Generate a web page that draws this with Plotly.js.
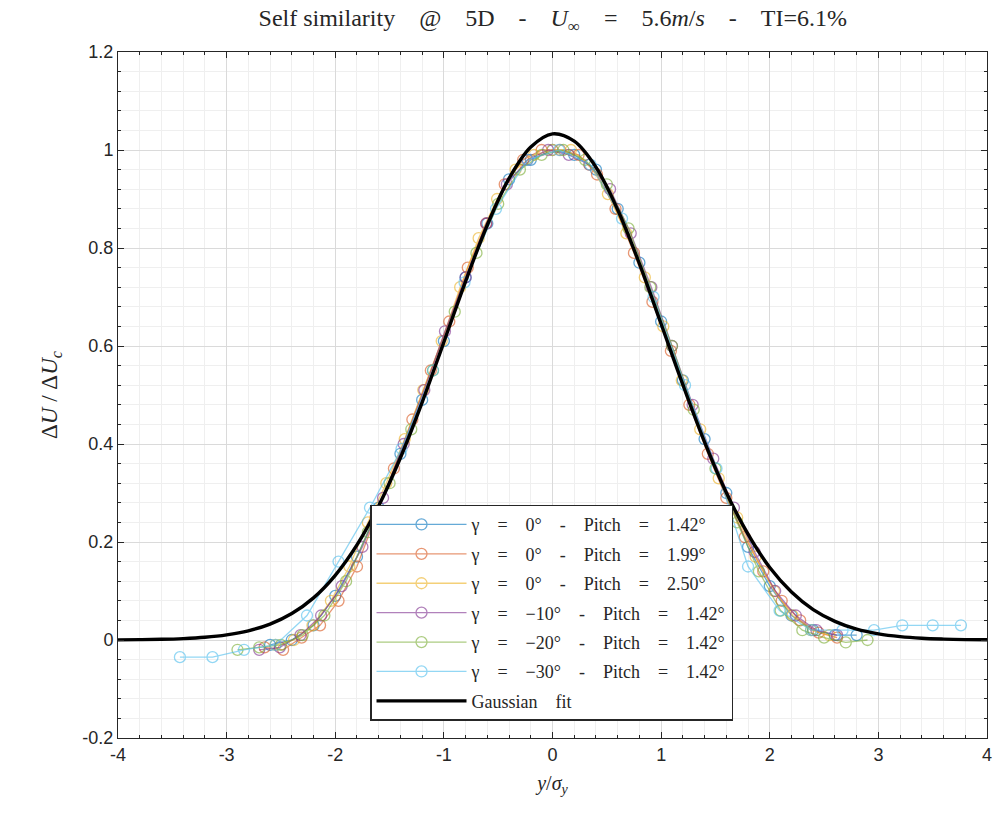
<!DOCTYPE html>
<html>
<head>
<meta charset="utf-8">
<script src="https://cdn.plot.ly/plotly-3.0.1.min.js"></script>
<style>html,body{margin:0;padding:0;background:#fff;}#chart{width:996px;height:822px;}</style>
</head>
<body>
<div id="chart"></div>
<script>
// ---- Data ----
const S = "&nbsp;&nbsp;&nbsp;&nbsp;";
const seriesNames = [
  "γ" + S + "=" + S + "0°" + S + "-" + S + "Pitch" + S + "=" + S + "1.42°",
  "γ" + S + "=" + S + "0°" + S + "-" + S + "Pitch" + S + "=" + S + "1.99°",
  "γ" + S + "=" + S + "0°" + S + "-" + S + "Pitch" + S + "=" + S + "2.50°",
  "γ" + S + "=" + S + "−10°" + S + "-" + S + "Pitch" + S + "=" + S + "1.42°",
  "γ" + S + "=" + S + "−20°" + S + "-" + S + "Pitch" + S + "=" + S + "1.42°",
  "γ" + S + "=" + S + "−30°" + S + "-" + S + "Pitch" + S + "=" + S + "1.42°"
];
const fitName = "Gaussian" + S + "fit";
const seriesColors = ["#0072BD", "#D95319", "#EDB120", "#7E2F8E", "#77AC30", "#4DBEEE"];

const x1 = [-2.6,-2.4,-2.2,-2.0,-1.8,-1.6,-1.4,-1.2,-1.0,-0.8,-0.6,-0.4,-0.2,0,0.2,0.4,0.6,0.8,1.0,1.2,1.4,1.6,1.8,2.0,2.2,2.4,2.6,2.8];
const y1 = [-0.01,0.0,0.03,0.09,0.17,0.27,0.38,0.49,0.61,0.74,0.85,0.94,0.98,1.0,0.99,0.96,0.88,0.77,0.65,0.53,0.41,0.30,0.19,0.11,0.05,0.02,0.01,0.01];

const x2 = [-2.65,-2.48,-2.31,-2.14,-1.97,-1.80,-1.63,-1.46,-1.29,-1.12,-0.95,-0.78,-0.61,-0.44,-0.27,-0.10,0.07,0.24,0.41,0.58,0.75,0.92,1.09,1.26,1.43,1.60,1.77,1.94,2.11,2.28,2.45,2.62];
const y2 = [-0.015,-0.02,0.005,0.03,0.08,0.15,0.25,0.35,0.45,0.55,0.65,0.76,0.85,0.93,0.98,1.0,1.0,0.99,0.95,0.88,0.79,0.69,0.59,0.48,0.38,0.29,0.21,0.14,0.08,0.04,0.015,0.005];

const x3 = [-2.55,-2.38,-2.21,-2.04,-1.87,-1.70,-1.53,-1.36,-1.19,-1.02,-0.85,-0.68,-0.51,-0.34,-0.17,0,0.17,0.34,0.51,0.68,0.85,1.02,1.19,1.36,1.53,1.70,1.87,2.04,2.21,2.38,2.55];
const y3 = [-0.01,0.0,0.03,0.08,0.15,0.24,0.32,0.41,0.51,0.61,0.72,0.82,0.90,0.96,0.99,1.0,1.0,0.97,0.91,0.83,0.74,0.64,0.53,0.43,0.33,0.25,0.17,0.10,0.05,0.02,0.01];

const x4 = [-2.70,-2.51,-2.32,-2.13,-1.94,-1.75,-1.56,-1.37,-1.18,-0.99,-0.80,-0.61,-0.42,-0.23,-0.04,0.15,0.34,0.53,0.72,0.91,1.10,1.29,1.48,1.67,1.86,2.05,2.24,2.43,2.62];
const y4 = [-0.02,-0.015,0.01,0.05,0.11,0.19,0.29,0.40,0.51,0.63,0.74,0.85,0.93,0.98,1.0,0.99,0.97,0.92,0.83,0.72,0.60,0.48,0.37,0.27,0.18,0.10,0.05,0.02,0.01];

const x5 = [-2.9,-2.7,-2.5,-2.3,-2.1,-1.9,-1.7,-1.5,-1.3,-1.1,-0.9,-0.7,-0.5,-0.3,-0.1,0.1,0.3,0.5,0.7,0.9,1.1,1.3,1.5,1.7,1.9,2.1,2.3,2.5,2.7,2.9];
const y5 = [-0.02,-0.015,-0.01,0.01,0.05,0.12,0.22,0.32,0.43,0.55,0.67,0.79,0.89,0.96,0.99,1.0,0.98,0.93,0.84,0.72,0.60,0.47,0.35,0.24,0.14,0.06,0.02,0.005,-0.005,0.0];

const x6 = [-3.43,-3.13,-2.84,-2.55,-2.26,-1.97,-1.68,-1.39,-1.10,-0.81,-0.52,-0.23,0.06,0.35,0.64,0.93,1.22,1.51,1.80,2.09,2.38,2.67,2.96,3.22,3.50,3.76];
const y6 = [-0.035,-0.035,-0.02,-0.01,0.05,0.16,0.27,0.39,0.55,0.73,0.88,0.98,1.0,0.97,0.86,0.70,0.52,0.35,0.15,0.06,0.02,0.02,0.02,0.03,0.03,0.03];

const xFit = [-4,-3.8,-3.6,-3.4,-3.2,-3.0,-2.8,-2.6,-2.4,-2.2,-2.0,-1.8,-1.6,-1.4,-1.2,-1.0,-0.8,-0.6,-0.4,-0.2,0,0.2,0.4,0.6,0.8,1.0,1.2,1.4,1.6,1.8,2.0,2.2,2.4,2.6,2.8,3.0,3.2,3.4,3.6,3.8,4.0];
const yFit = [0.0003,0.0007,0.0014,0.0029,0.0056,0.0105,0.0188,0.0325,0.054,0.086,0.132,0.194,0.274,0.372,0.485,0.608,0.732,0.847,0.942,1.006,1.033,1.018,0.965,0.878,0.768,0.645,0.521,0.404,0.301,0.216,0.148,0.098,0.062,0.038,0.022,0.0125,0.0068,0.0035,0.0018,0.0008,0.0004];

const xTicks = [-4,-3,-2,-1,0,1,2,3,4];
const yTicks = [-0.2,0,0.2,0.4,0.6,0.8,1,1.2];
const yTickText = ["-0.2","0","0.2","0.4","0.6","0.8","1","1.2"];

// ---- Traces ----
const xs = [x1,x2,x3,x4,x5,x6];
const ys = [y1,y2,y3,y4,y5,y6];
const traces = xs.map((xx, i) => ({
  type: "scatter",
  mode: "lines+markers",
  x: xx,
  y: ys[i],
  name: seriesNames[i],
  legendgroup: "g" + i,
  opacity: 0.6,
  line: {color: seriesColors[i], width: 1.3},
  marker: {symbol: "circle-open", size: 11, color: seriesColors[i], line: {width: 1.3, color: seriesColors[i]}}
}));
traces.push({
  type: "scatter",
  mode: "lines",
  x: xFit,
  y: yFit,
  name: fitName,
  legendgroup: "fit",
  line: {color: "#000000", width: 3.4, shape: "spline"}
});

const serif = "Liberation Serif, DejaVu Serif, serif";
const axisCommon = {
  showline: true,
  mirror: "ticks",
  linecolor: "#262626",
  linewidth: 1,
  ticks: "inside",
  ticklen: 6,
  tickcolor: "#262626",
  showgrid: true,
  gridcolor: "#dadada",
  gridwidth: 1,
  zeroline: false,
  tickfont: {family: "Liberation Sans, Arial, sans-serif", size: 18, color: "#262626"}
};

const layout = {
  width: 996,
  height: 822,
  paper_bgcolor: "#ffffff",
  plot_bgcolor: "#ffffff",
  margin: {l: 118, r: 9, t: 52, b: 84},
  showlegend: true,
  title: {
    text: "Self similarity" + S + "@" + S + "5D" + S + "-" + S + "<i>U</i><sub>∞</sub>" + S + "=" + S + "5.6<i>m</i>/<i>s</i>" + S + "-" + S + "TI=6.1%",
    font: {family: serif, size: 24, color: "#262626"},
    x: 0.555, xanchor: "center", y: 0.978, yanchor: "middle"
  },
  xaxis: Object.assign({}, axisCommon, {
    range: [-4, 4],
    tickvals: xTicks,
    ticktext: xTicks.map(v => String(v)),
    minor: {dtick: 0.2, showgrid: true, gridcolor: "#efefef", gridwidth: 1, ticks: "inside", ticklen: 3, tickcolor: "#262626"},
    title: {text: "<i>y</i>/<i>σ</i><sub><i>y</i></sub>", font: {family: serif, size: 20, color: "#262626"}, standoff: 12}
  }),
  yaxis: Object.assign({}, axisCommon, {
    range: [-0.2, 1.2],
    tickvals: yTicks,
    ticktext: yTickText,
    minor: {dtick: 0.04, showgrid: true, gridcolor: "#efefef", gridwidth: 1, ticks: "inside", ticklen: 3, tickcolor: "#262626"},
    title: {text: "Δ<i>U</i>&nbsp;/&nbsp;Δ<i>U</i><sub><i>c</i></sub>", font: {family: serif, size: 23, color: "#262626"}, standoff: 18}
  }),
  legend: {
    x: 0.29, y: 0.34, xanchor: "left", yanchor: "top",
    bgcolor: "#ffffff",
    bordercolor: "#262626",
    borderwidth: 1.5,
    font: {family: serif, size: 18, color: "#262626"},
    tracegroupgap: 3,
    itemwidth: 90
  }
};

Plotly.newPlot("chart", traces, layout, {displayModeBar: false, staticPlot: true});
</script>
</body>
</html>
